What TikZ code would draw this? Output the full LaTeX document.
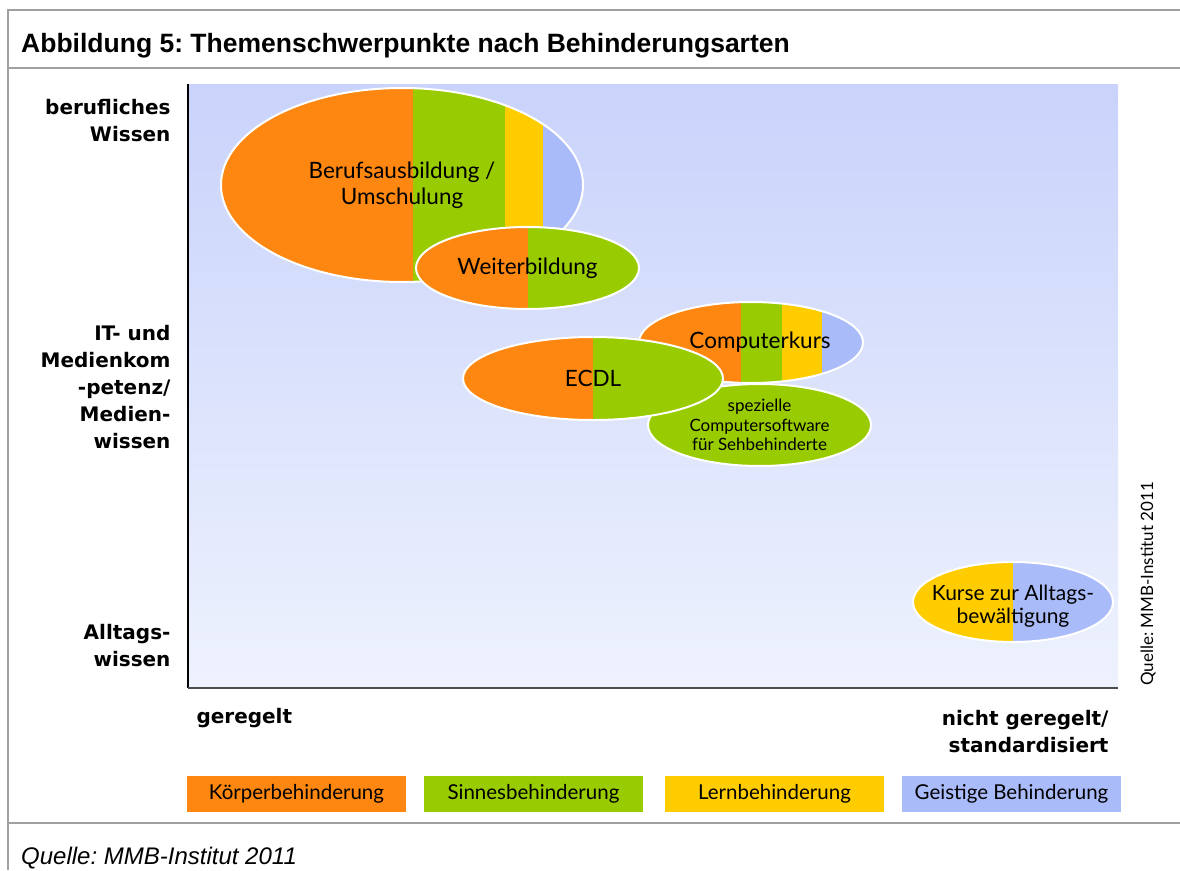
\documentclass[tikz,border=0pt]{standalone}
\usepackage{fontspec}
\setmainfont{Lato}
\newfontfamily\titlefont{Liberation Sans}
\newfontfamily\axisfont{DejaVu Sans}
\usetikzlibrary{shapes.geometric,calc}

\definecolor{koerper}{RGB}{253,135,17}
\definecolor{sinne}{RGB}{153,204,0}
\definecolor{lern}{RGB}{255,204,0}
\definecolor{geistig}{RGB}{170,187,250}
\definecolor{plottop}{RGB}{201,211,251}
\definecolor{plotbottom}{RGB}{238,242,253}
\definecolor{framegray}{RGB}{160,160,160}

% one coloured band of a bubble, from fraction #2 to #3 of its width
\newcommand\bandfill[3]{%
  \fill[#1] ($(path picture bounding box.south west)!#2!(path picture bounding box.south east)$)
    rectangle ($(path picture bounding box.north west)!#3!(path picture bounding box.north east)$);}

\tikzset{
  bubble/.style={ellipse, draw=white, line width=2pt, inner sep=0pt, align=center,
    font=\fontsize{22.5}{26}\selectfont},
  bubbletext/.style={align=center, inner sep=0pt, font=\fontsize{22.5}{26}\selectfont},
  axislabel/.style={align=right, font=\axisfont\bfseries\fontsize{20}{27}\selectfont},
  legendbox/.style={minimum width=219pt, minimum height=36pt, inner sep=0pt,
    font=\fontsize{20.5}{23}\selectfont}
}

\begin{document}
\frenchspacing
\begin{tikzpicture}[x=1pt,y=-1pt]
\useasboundingbox (0,0) rectangle (1180,870);

% frame
\draw[framegray, line width=2pt] (1180,10) -- (8,10) -- (8,870);
\draw[framegray, line width=2pt] (8,68) -- (1180,68);
\draw[framegray, line width=2pt] (8,823) -- (1180,823);
\node[anchor=base west, inner sep=0pt, font=\titlefont\bfseries\fontsize{26.5}{30}\selectfont]
  (title) at (21,52) {Abbildung 5: Themenschwerpunkte nach Behinderungsarten};
\node[anchor=base west, inner sep=0pt, font=\titlefont\itshape\fontsize{24}{28}\selectfont]
  (source) at (21,864) {Quelle: MMB-Institut 2011};

% plot area
\coordinate (origin) at (188,688);
\coordinate (ytop) at (188,84);
\coordinate (xend) at (1118,688);
\shade[top color=plottop, bottom color=plotbottom] (ytop) rectangle (xend);
\draw[black, line width=1.2pt] (ytop) -- (origin);
\draw[black!70, line width=1.2pt] (origin) -- (xend);

\node[axislabel, anchor=east] (beruflich) at (174,121) {berufliches\\Wissen};
\node[axislabel, anchor=east] (medien) at (174,387) {IT- und\\Medienkom\\-petenz/\\Medien-\\wissen};
\node[axislabel, anchor=east] (alltag) at (174,646) {Alltags-\\wissen};
\node[axislabel, anchor=west, align=left] (geregelt) at (193,718) {geregelt};
\node[axislabel, anchor=east] (ungeregelt) at (1112,731.5) {nicht geregelt/\\standardisiert};
\node[rotate=90, font=\fontsize{17}{20}\selectfont] (quelle) at (1148,584) {Quelle: MMB-Institut 2011};

% bubbles
\node[bubble, minimum width=362pt, minimum height=194pt,
  path picture={\bandfill{koerper}{0}{0.53}\bandfill{sinne}{0.53}{0.785}%
    \bandfill{lern}{0.785}{0.89}\bandfill{geistig}{0.89}{1}}]
  (ausbildung) at (402,185) {Berufsausbildung /\\Umschulung};
\node[bubble, minimum width=223pt, minimum height=82pt,
  path picture={\bandfill{koerper}{0}{0.5}\bandfill{sinne}{0.5}{1}}]
  (weiterbildung) at (527.5,268) {Weiterbildung};
\node[bubble, minimum width=224pt, minimum height=81pt,
  label={[bubbletext, xshift=9pt]center:Computerkurs},
  path picture={\bandfill{koerper}{0}{0.455}\bandfill{sinne}{0.455}{0.638}%
    \bandfill{lern}{0.638}{0.817}\bandfill{geistig}{0.817}{1}}]
  (computerkurs) at (751,342.5) {};
\node[bubble, fill=sinne, minimum width=223pt, minimum height=82pt,
  font=\fontsize{17}{19.5}\selectfont]
  (software) at (759.5,425) {spezielle\\Computersoftware\\für Sehbehinderte};
\node[bubble, minimum width=260pt, minimum height=83pt,
  path picture={\bandfill{koerper}{0}{0.5}\bandfill{sinne}{0.5}{1}}]
  (ecdl) at (593,378.5) {ECDL};
\node[bubble, minimum width=200pt, minimum height=80pt,
  label={[bubbletext, font=\fontsize{21}{23.5}\selectfont, yshift=-4pt]center:Kurse zur Alltags-\\bewältigung},
  path picture={\bandfill{lern}{0}{0.5}\bandfill{geistig}{0.5}{1}}]
  (alltagskurs) at (1013,602) {};

% legend
\node[legendbox, fill=koerper] (legkoerper) at (296.5,793.5) {Körperbehinderung};
\node[legendbox, fill=sinne] (legsinne) at (533.5,793.5) {Sinnesbehinderung};
\node[legendbox, fill=lern] (leglern) at (774.5,793.5) {Lernbehinderung};
\node[legendbox, fill=geistig] (leggeistig) at (1011.5,793.5) {Geistige Behinderung};
\end{tikzpicture}
\end{document}
